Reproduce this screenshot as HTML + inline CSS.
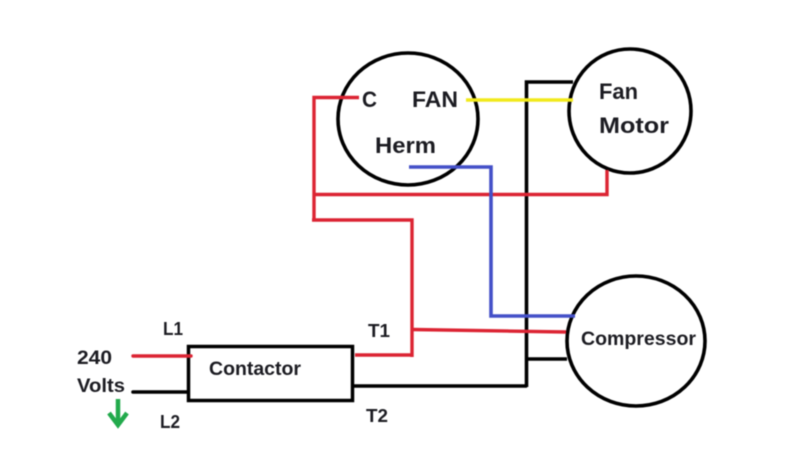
<!DOCTYPE html>
<html>
<head>
<meta charset="utf-8">
<style>
html,body{margin:0;padding:0;background:#fff;width:800px;height:450px;overflow:hidden}
svg{display:block;filter:blur(.4px)}
text{font-family:"Liberation Sans",sans-serif;font-weight:bold;fill:#1c1c22}
</style>
</head>
<body>
<svg width="800" height="450" viewBox="0 0 800 450" xmlns="http://www.w3.org/2000/svg">
<rect width="800" height="450" fill="#fff"/>
<g fill="none" stroke="#000" stroke-width="3.600">
  <ellipse cx="408" cy="119" rx="70" ry="66"/>
  <ellipse cx="630" cy="111" rx="61" ry="62"/>
  <ellipse cx="636" cy="341" rx="69" ry="65"/>
</g>
<g fill="none" stroke="#000" stroke-width="3.600">
  <path d="M573 82H526.500V387"/>
  <path d="M353 386H527"/>
  <path d="M528 359H567"/>
  <path d="M133 392H188" stroke-linecap="round"/>
</g>
<rect x="188.500" y="346.500" width="164" height="54" fill="none" stroke="#000" stroke-width="3.500"/>
<path d="M466 100H573" fill="none" stroke="#f2ea1c" stroke-width="3.600"/>
<g fill="none" stroke="#dc2433" stroke-width="3.400">
  <path d="M359 97.500H314V220"/>
  <path d="M314 194.500H607V170"/>
  <path d="M312 220H412V357"/>
  <path d="M355 355H412"/>
  <path d="M412 329.500L566 332"/>
  <path d="M133 356H191" stroke-linecap="round"/>
</g>
<path d="M409 167H491V316H575" fill="none" stroke="#4450c8" stroke-width="3.600"/>
<path d="M118 399V421" fill="none" stroke="#22aa4c" stroke-width="4.500"/>
<path d="M109 413L118 425L127 413" fill="none" stroke="#22aa4c" stroke-width="4.500"/>
<text x="362" y="107" font-size="22" textLength="15" lengthAdjust="spacingAndGlyphs">C</text>
<text x="412" y="107" font-size="22" textLength="46" lengthAdjust="spacingAndGlyphs">FAN</text>
<text x="375" y="153" font-size="22" textLength="61" lengthAdjust="spacingAndGlyphs">Herm</text>
<text x="599" y="99" font-size="22" textLength="39" lengthAdjust="spacingAndGlyphs">Fan</text>
<text x="599" y="133" font-size="22" textLength="70" lengthAdjust="spacingAndGlyphs">Motor</text>
<text x="581" y="345" font-size="19.500" textLength="115" lengthAdjust="spacingAndGlyphs">Compressor</text>
<text x="209" y="375" font-size="19.500" textLength="92" lengthAdjust="spacingAndGlyphs">Contactor</text>
<text x="163" y="335" font-size="18" textLength="20" lengthAdjust="spacingAndGlyphs">L1</text>
<text x="160" y="428" font-size="18" textLength="20" lengthAdjust="spacingAndGlyphs">L2</text>
<text x="368" y="337" font-size="18" textLength="22" lengthAdjust="spacingAndGlyphs">T1</text>
<text x="366" y="422" font-size="18" textLength="22" lengthAdjust="spacingAndGlyphs">T2</text>
<text x="77" y="364" font-size="19.500" textLength="35" lengthAdjust="spacingAndGlyphs">240</text>
<text x="77" y="392" font-size="19.500" textLength="48" lengthAdjust="spacingAndGlyphs">Volts</text>
</svg>
</body>
</html>
